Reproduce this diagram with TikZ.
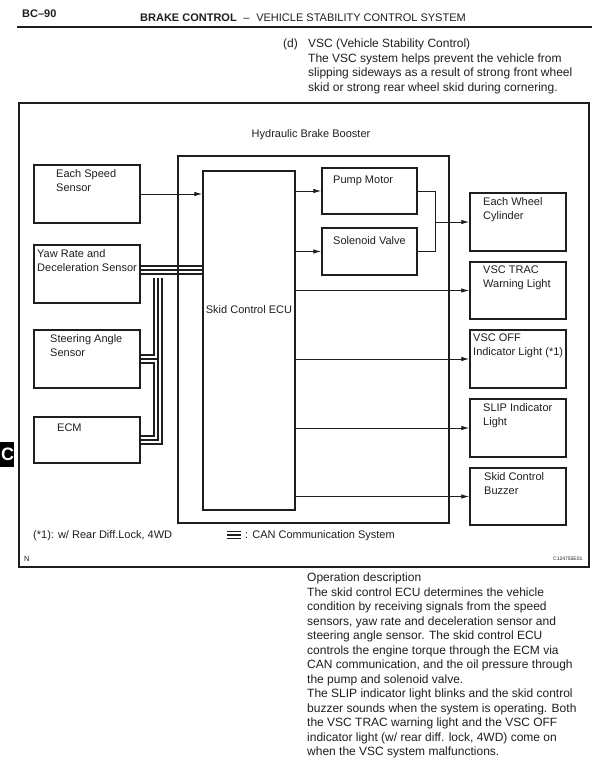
\documentclass[tikz,border=0pt]{standalone}
\usepackage{fontspec}
\setmainfont{Liberation Sans}
\usetikzlibrary{arrows.meta}
\definecolor{ink}{HTML}{1E1E1E}
\tikzset{
  box/.style={draw=ink, line width=1.5pt, rectangle, inner sep=0pt},
  lbl/.style={anchor=north west, inner sep=0pt, align=left, text=ink, font=\fontsize{11}{14}\selectfont},
  para/.style={anchor=north west, inner sep=0pt, align=left, text=ink, font=\fontsize{12}{14.5}\selectfont},
  conn/.style={draw=ink, line width=0.9pt},
  arr/.style={conn, -{Latex[length=8pt,width=4.5pt]}},
  busout/.style={draw=ink, line width=9.4pt, line join=miter},
  busin/.style={draw=white, line width=6.4pt, line join=miter},
  buscore/.style={draw=ink, line width=1.3pt, line join=miter}
}
\begin{document}
\begin{tikzpicture}[x=1pt,y=-1pt]
\useasboundingbox (0,0) rectangle (606,782);
% header
\node[anchor=base west, inner sep=0pt, text=ink, font=\fontsize{11}{13}\selectfont\bfseries] (pg) at (22,17) {BC–90};
\node[anchor=base west, inner sep=0pt, text=ink, font=\fontsize{11}{13}\selectfont] (hd) at (140,21) {\textbf{BRAKE CONTROL}\,\, –\,\, VEHICLE STABILITY CONTROL SYSTEM};
\draw[ink, line width=1.6pt] (17,27) -- (592,27);
\node[para] (dlab) at (283,39) {(d)};
\node[para] (intro) at (308,39) {VSC (Vehicle Stability Control)\\The VSC system helps prevent the vehicle from\\slipping sideways as a result of strong front wheel\\skid or strong rear wheel skid during cornering.};
% side tab
\fill[black] (0,442) rectangle (14,467);
\node[text=white, font=\fontsize{18}{18}\selectfont\bfseries, inner sep=0pt] (tab) at (7.5,454.5) {C};
% outer frame
\draw[ink, line width=1.3pt] (19,103) rectangle (589,567);
% nodes
\node[lbl, anchor=center] (hbb) at (311,135) {Hydraulic Brake Booster};
\node[box, minimum width=106pt, minimum height=58pt] (speed) at (87,194) {};
\node[box, minimum width=106pt, minimum height=58pt] (yaw) at (87,274) {};
\node[box, minimum width=106pt, minimum height=58pt] (steer) at (87,359) {};
\node[box, minimum width=106pt, minimum height=46pt] (ecm) at (87,440) {};
\node[box, minimum width=92pt, minimum height=339pt] (ecu) at (249,340.5) {};
\node[box, minimum width=95pt, minimum height=46pt] (pump) at (369.5,191) {};
\node[box, minimum width=95pt, minimum height=47pt] (sol) at (369.5,251.5) {};
\node[box, minimum width=96pt, minimum height=58pt] (wheel) at (518,222) {};
\node[box, minimum width=96pt, minimum height=57pt] (trac) at (518,290.5) {};
\node[box, minimum width=96pt, minimum height=58pt] (off) at (518,359) {};
\node[box, minimum width=96pt, minimum height=58pt] (slip) at (518,428) {};
\node[box, minimum width=96pt, minimum height=57pt] (buzz) at (518,496.5) {};
% labels
\node[lbl] (speedT) at (56,169) {Each Speed\\Sensor};
\node[lbl] (yawT) at (37,249) {Yaw Rate and\\Deceleration Sensor};
\node[lbl] (steerT) at (50,334) {Steering Angle\\Sensor};
\node[lbl] (ecmT) at (57,424) {ECM};
\node[lbl, anchor=center] (ecuT) at (249,310) {Skid Control ECU};
\node[lbl] (pumpT) at (333,176) {Pump Motor};
\node[lbl] (solT) at (333,236) {Solenoid Valve};
\node[lbl] (wheelT) at (483,197) {Each Wheel\\Cylinder};
\node[lbl] (tracT) at (483,266) {VSC TRAC\\Warning Light};
\node[lbl] (offT) at (473,334) {VSC OFF\\Indicator Light (*1)};
\node[lbl] (slipT) at (483,403) {SLIP Indicator\\Light};
\node[lbl] (buzzT) at (484,472) {Skid Control\\Buzzer};
% CAN bus
\coordinate (yb) at ([yshift=4pt]yaw.east);
\coordinate (ye) at (ecu.west |- yb);
\coordinate (jb) at (158,278);
\coordinate (js) at (jb |- steer.east);
\foreach \s in {busout,busin,buscore}{
  \draw[\s] (yb) -- (ye);
  \draw[\s] (jb) |- (ecm.east);
  \draw[\s] (steer.east) -- (js);
}
% booster box drawn over the bus
\node[box, minimum width=271pt, minimum height=367pt] (boost) at (313.5,339.5) {};
% connectors
\draw[arr] (speed.east) -- (ecu.west |- speed.east);
\draw[arr] (ecu.east |- pump.west) -- (pump.west);
\draw[arr] (ecu.east |- sol.west) -- (sol.west);
\coordinate (jn) at (435,222);
\draw[conn] (pump.east) -| (jn);
\draw[conn] (sol.east) -| (jn);
\draw[arr] (jn) -- (wheel.west);
\draw[arr] (ecu.east |- trac.west) -- (trac.west);
\draw[arr] (ecu.east |- off.west) -- (off.west);
\draw[arr] (ecu.east |- slip.west) -- (slip.west);
\draw[arr] (ecu.east |- buzz.west) -- (buzz.west);
% legend and footnotes
\node[anchor=base west, inner sep=0pt, text=ink, font=\fontsize{11}{13}\selectfont] (fn) at (33,538) {(*1): w/ Rear Diff.Lock, 4WD};
\draw[ink, line width=1.6pt] (227,531.5) -- (241,531.5) (227,535) -- (241,535) (227,538.5) -- (241,538.5);
\node[anchor=base west, inner sep=0pt, text=ink, font=\fontsize{11}{13}\selectfont] (canT) at (245,538) {: CAN Communication System};
\node[anchor=base west, inner sep=0pt, text=ink, font=\fontsize{7.5}{9}\selectfont] (nT) at (24,561) {N};
\node[anchor=base west, inner sep=0pt, text=ink, font=\fontsize{5}{6}\selectfont] (codeT) at (553,560) {C124755E01};
% description
\node[para] (desc) at (307,573) {Operation description\\The skid control ECU determines the vehicle\\condition by receiving signals from the speed\\sensors, yaw rate and deceleration sensor and\\steering angle sensor. The skid control ECU\\controls the engine torque through the ECM via\\CAN communication, and the oil pressure through\\the pump and solenoid valve.\\The SLIP indicator light blinks and the skid control\\buzzer sounds when the system is operating. Both\\the VSC TRAC warning light and the VSC OFF\\indicator light (w/ rear diff. lock, 4WD) come on\\when the VSC system malfunctions.};
\end{tikzpicture}
\end{document}
